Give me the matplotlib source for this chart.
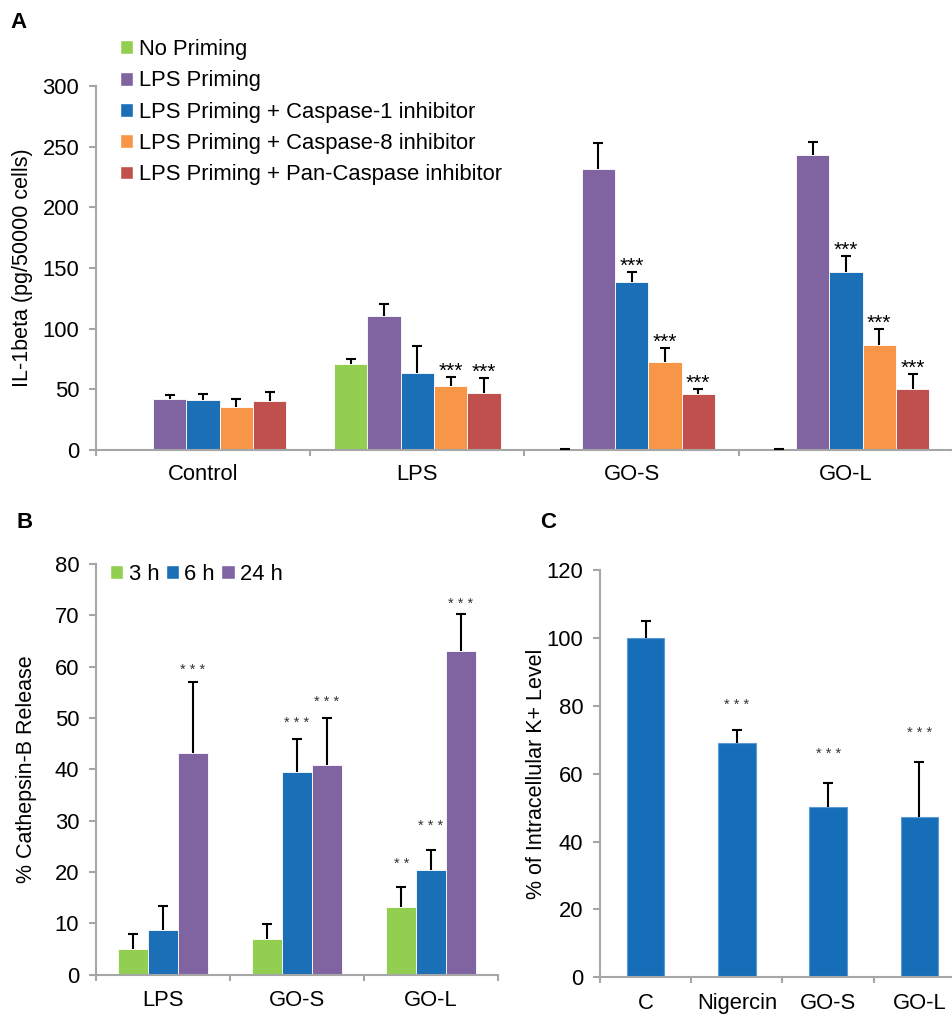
import numpy as np
import matplotlib
matplotlib.use("Agg")
import matplotlib.pyplot as plt
from matplotlib.patches import Patch

plt.rcParams["font.family"] = ["Liberation Sans", "DejaVu Sans"]

# ---- data ----
a_groups = ["Control", "LPS", "GO-S", "GO-L"]
a_series = ["No Priming", "LPS Priming", "LPS Priming + Caspase-1 inhibitor",
            "LPS Priming + Caspase-8 inhibitor", "LPS Priming + Pan-Caspase inhibitor"]
a_vals = [
    [0, 70.6, 0, 0],          # No Priming
    [42, 110.2, 232, 243],    # LPS Priming
    [41.5, 63.2, 138.8, 147],  # Casp-1
    [35.7, 52.5, 72.5, 86.3],  # Casp-8
    [40.1, 47, 45.9, 50.5],   # Pan-Casp
]
a_err = [
    [0, 4.4, 1, 1],
    [3.3, 10.4, 20.8, 10.9],
    [4.5, 22.8, 8.2, 13.2],
    [6.1, 7.7, 11.8, 13.2],
    [7.9, 12.6, 4.4, 11.9],
]
a_stars = [
    ["", "", "", ""],
    ["", "", "", ""],
    ["", "", "***", "***"],
    ["", "***", "***", "***"],
    ["", "***", "***", "***"],
]

b_groups = ["LPS", "GO-S", "GO-L"]
b_series = ["3 h", "6 h", "24 h"]
b_vals = [
    [5.0, 7.0, 13.2],
    [8.8, 39.4, 20.4],
    [43.2, 40.8, 63.0],
]
b_err = [
    [3.0, 2.8, 3.9],
    [4.6, 6.5, 3.9],
    [13.8, 9.2, 7.3],
]
b_stars = [
    ["", "", "* *"],
    ["", "* * *", "* * *"],
    ["* * *", "* * *", "* * *"],
]
b_star_y = [
    [0, 0, 21.5],
    [0, 49.1, 29.0],
    [59.3, 53.2, 72.3],
]

c_groups = ["C", "Nigercin", "GO-S", "GO-L"]
c_vals = [100, 69, 50.1, 47.1]
c_err = [5.1, 3.9, 7.1, 16.2]
c_stars = ["", "* * *", "* * *", "* * *"]
c_star_y = [0, 80.3, 65.8, 71.9]

colors_a = ["#92CF50", "#8064A2", "#1B6FB7", "#F79646", "#C0504D"]
colors_b = ["#92CF50", "#1B6FB7", "#8064A2"]
spine_col = "#A6A6A6"

W, H = 953, 1014
fig = plt.figure(figsize=(W / 100, H / 100), dpi=100)


def px_axes(x0, y0, x1, y1):
    return fig.add_axes([x0 / W, 1 - y1 / H, (x1 - x0) / W, (y1 - y0) / H])


def style_axes(ax, ngroups, labels, ylim, yticks, fs=15.8, xpad=10):
    for s in ["top", "right"]:
        ax.spines[s].set_visible(False)
    for s in ["left", "bottom"]:
        ax.spines[s].set_color(spine_col)
        ax.spines[s].set_linewidth(1.5)
    ax.set_xlim(-0.5, ngroups - 0.5)
    ax.set_ylim(*ylim)
    ax.set_yticks(yticks)
    ax.set_xticks(np.arange(ngroups + 1) - 0.5)
    ax.set_xticklabels([])
    ax.set_xticks(np.arange(ngroups), minor=True)
    ax.set_xticklabels(labels, minor=True, fontsize=fs)
    ax.tick_params(axis="x", which="major", direction="out", length=4.5,
                   width=1.5, color=spine_col)
    ax.tick_params(axis="x", which="minor", length=0, pad=xpad)
    ax.tick_params(axis="y", direction="out", length=5, width=1.5,
                   color=spine_col, labelsize=fs, pad=7)


def up_errors(ax, xs, v, e):
    # only the upper half of the error bar, with a cap on top
    _, caps, _ = ax.errorbar(xs, v, yerr=[np.zeros(len(v)), e], fmt="none",
                             ecolor="black", elinewidth=1.5, capsize=3.6,
                             capthick=1.5, zorder=3)
    caps[0].set_visible(False)


def draw_bars(ax, vals, errs, colors, width, edge="white"):
    n = len(vals)
    x = np.arange(len(vals[0]))
    for i in range(n):
        xs = x + (i - (n - 1) / 2) * width
        v = np.array(vals[i], dtype=float)
        e = np.array(errs[i], dtype=float)
        ax.bar(xs, v, width=width, color=colors[i], edgecolor=edge,
               linewidth=0.6, zorder=2)
        m = e > 0
        up_errors(ax, xs[m], v[m], e[m])


# ---- panel A ----
axA = px_axes(96, 86, 953, 450)
wA = 0.1556
draw_bars(axA, a_vals, a_err, colors_a, wA)
style_axes(axA, 4, a_groups, (0, 300), range(0, 301, 50), xpad=10)
axA.set_ylabel("IL-1beta (pg/50000 cells)", fontsize=15.5, labelpad=7)
for i in range(5):
    for j in range(4):
        if a_stars[i][j]:
            xc = j + (i - 2) * wA
            top = a_vals[i][j] + a_err[i][j]
            axA.annotate(a_stars[i][j], (xc, top), xytext=(0, 0),
                         textcoords="offset points", ha="center",
                         va="baseline", fontsize=15)
handles = [Patch(facecolor=c, edgecolor="white") for c in colors_a]
fig.legend(handles, a_series, loc="upper left",
           bbox_to_anchor=(120 / W, 1 - 39 / H), frameon=False,
           fontsize=15.8, handlelength=0.6, handleheight=0.6,
           handletextpad=0.25, labelspacing=0.47, borderpad=0,
           borderaxespad=0)
fig.text(10 / W, 1 - 22 / H, "A", fontsize=16, fontweight="bold",
         va="center", ha="left")

# ---- panel B ----
axB = px_axes(96, 564, 498, 974.7)
wB = 0.2216
draw_bars(axB, b_vals, b_err, colors_b, wB)
style_axes(axB, 3, b_groups, (0, 80), range(0, 81, 10), xpad=11)
axB.set_ylabel("% Cathepsin-B Release", fontsize=15.5, labelpad=13)
for i in range(3):
    for j in range(3):
        if b_stars[i][j]:
            xc = j + (i - 1) * wB
            axB.text(xc, b_star_y[i][j], b_stars[i][j], ha="center",
                     va="center", fontsize=10.5, color="#333333")
hb = [Patch(facecolor=c, edgecolor="white") for c in colors_b]
fig.legend(hb, b_series, loc="upper left", ncol=3,
           bbox_to_anchor=(110 / W, 1 - 564 / H), frameon=False,
           fontsize=15.8, handlelength=0.6, handleheight=0.6,
           handletextpad=0.25, columnspacing=0.3, borderpad=0,
           borderaxespad=0)
fig.text(16 / W, 1 - 523 / H, "B", fontsize=16, fontweight="bold",
         va="center", ha="left")

# ---- panel C ----
axC = px_axes(600, 570, 965, 977.3)
cx = np.arange(4)
axC.bar(cx, c_vals, width=0.41, color="#176EB8",
        edgecolor="#5B9BD5", linewidth=0.8, zorder=2)
up_errors(axC, cx, np.array(c_vals), np.array(c_err))
style_axes(axC, 4, c_groups, (0, 120), range(0, 121, 20), xpad=11)
axC.set_ylabel("% of Intracellular K+ Level", fontsize=15.5, labelpad=0)
for j in range(4):
    if c_stars[j]:
        axC.text(j, c_star_y[j], c_stars[j], ha="center", va="center",
                 fontsize=10.5, color="#333333")
fig.text(540 / W, 1 - 523 / H, "C", fontsize=16, fontweight="bold",
         va="center", ha="left")

fig.savefig("out.png", dpi=100)
